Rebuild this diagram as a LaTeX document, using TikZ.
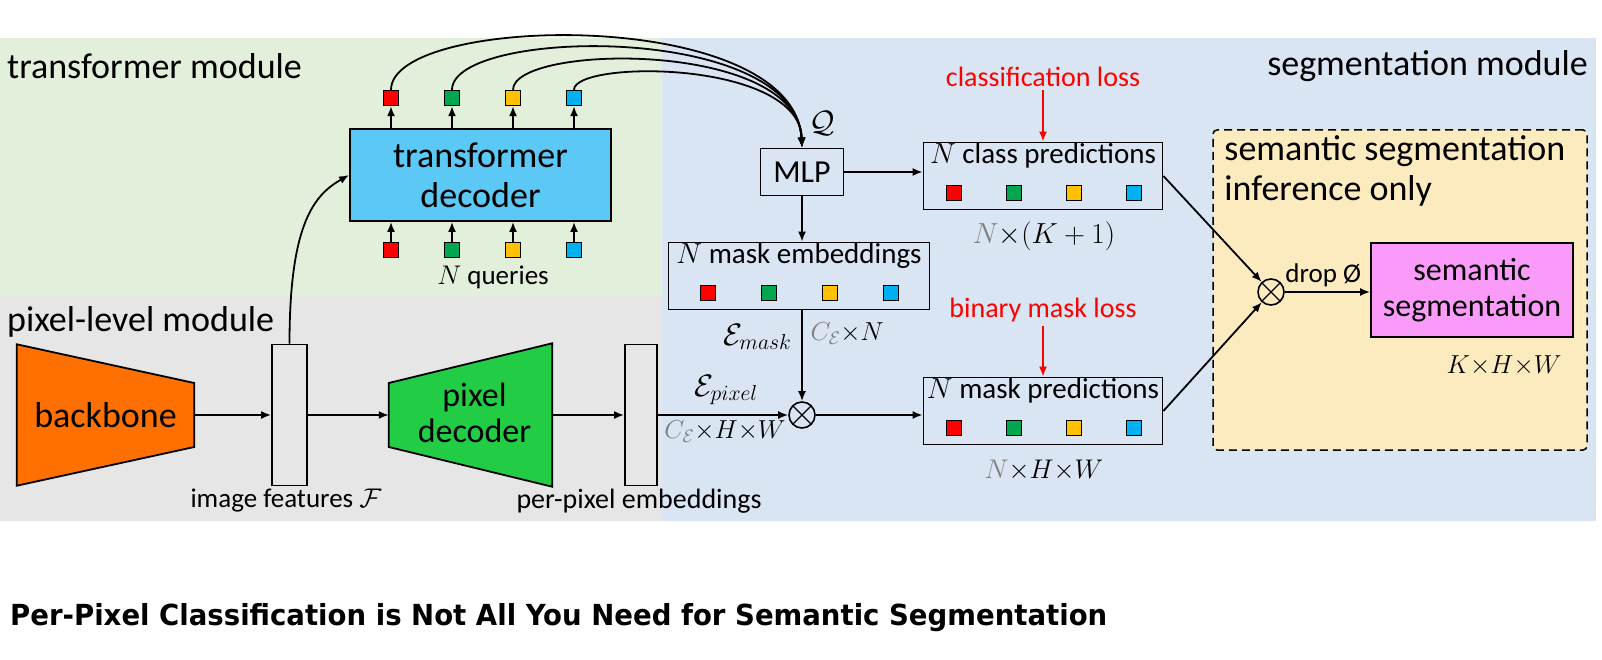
\RequirePackage{fix-cm}
\documentclass[tikz,border=0pt]{standalone}
\usepackage{fontspec}
\setmainfont{Carlito}
\newfontfamily\titlefont{DejaVu Sans}
\usepackage{tikz}
\usetikzlibrary{positioning,arrows.meta,calc}

\definecolor{tmbg}{RGB}{226,239,218}
\definecolor{pxbg}{RGB}{231,230,230}
\definecolor{sgbg}{RGB}{218,229,243}
\definecolor{infbg}{RGB}{253,235,192}
\definecolor{decblue}{RGB}{91,200,245}
\definecolor{bborange}{RGB}{255,112,0}
\definecolor{pdgreen}{RGB}{34,204,68}
\definecolor{segpink}{RGB}{250,155,250}
\definecolor{qred}{RGB}{255,0,0}
\definecolor{qgreen}{RGB}{0,166,80}
\definecolor{qyellow}{RGB}{255,192,0}
\definecolor{qblue}{RGB}{0,176,240}
\definecolor{dimgray}{RGB}{128,128,128}
\definecolor{lossred}{RGB}{255,0,0}

\begin{document}
\begin{tikzpicture}[
  x=1pt, y=-1pt,
  fbig/.style={font=\fontsize{36}{40}\selectfont},
  fmid/.style={font=\fontsize{31}{36}\selectfont},
  fsmall/.style={font=\fontsize{27}{31}\selectfont},
  fpanel/.style={font=\fontsize{29}{33}\selectfont},
  fmath/.style={font=\fontsize{26}{30}\selectfont},
  box/.style={draw, line width=1.8pt, inner sep=0pt, align=center},
  panel/.style={draw, line width=1.8pt, minimum width=239pt, minimum height=67pt, inner sep=0pt},
  qsq/.style={draw, line width=1.3pt, minimum size=15pt, inner sep=0pt},
  mult/.style={draw, circle, line width=1.6pt, minimum size=26pt, inner sep=0pt,
    path picture={\draw[line width=1.3pt] (path picture bounding box.north west) -- (path picture bounding box.south east)
      (path picture bounding box.north east) -- (path picture bounding box.south west);}},
  arr/.style={-{Latex[length=10pt,width=8pt]}, line width=1.8pt},
  lossarr/.style={arr, lossred},
  loss/.style={font=\fontsize{28}{32}\selectfont, text=lossred}
]
\useasboundingbox (0,0) rectangle (1602,660);

% ---- module backgrounds ----
\fill[white] (0,0) rectangle (1602,660);
\fill[tmbg] (0,38) rectangle (662,296);
\fill[pxbg] (0,296) rectangle (662,521);
\fill[sgbg] (662,38) rectangle (1596,521);
\node[fbig, anchor=west, inner sep=0pt] at (7,66) {transformer module};
\node[fbig, anchor=west, inner sep=0pt] at (7,322) {pixel-level module};
\node[fbig, anchor=east, inner sep=0pt] at (1588,66) {segmentation module};

% ---- transformer module ----
\node[box, fill=decblue, minimum width=261pt, minimum height=92pt, fbig] (dec) at (480.5,175) {transformer\\decoder};
\foreach \c [count=\i] in {qred,qgreen,qyellow,qblue} {
  \node[qsq, fill=\c] (qin\i) at (330+61*\i,250) {};
  \node[qsq, fill=\c] (qout\i) at (330+61*\i,98) {};
  \draw[arr] (qin\i) -- (qin\i |- dec.south);
  \draw[arr] (qout\i |- dec.north) -- (qout\i);
}
\node[fsmall] (nq) at (493,277) {$N$ queries};

% ---- pixel-level module ----
\node[minimum width=177pt, minimum height=141pt, inner sep=0pt] (bb) at (105.5,415) {};
\filldraw[fill=bborange, line width=1.8pt] (bb.north west) -- ($(bb.east)+(0,-32)$) -- ($(bb.east)+(0,32)$) -- (bb.south west) -- cycle;
\node[fbig] at (bb) {backbone};
\node[draw, line width=1.8pt, minimum width=35pt, minimum height=141pt] (feat) at (289.5,415) {};
\node[minimum width=163pt, minimum height=143pt, inner sep=0pt] (pd) at (470.5,415) {};
\filldraw[fill=pdgreen, line width=1.8pt] (pd.north east) -- (pd.south east) -- ($(pd.west)+(0,32)$) -- ($(pd.west)+(0,-32)$) -- cycle;
\node[fbig, align=center, font=\fontsize{34}{36}\selectfont] at ($(pd)+(4,-2)$) {pixel\\decoder};
\node[draw, line width=1.8pt, minimum width=32pt, minimum height=141pt] (ppe) at (641,415) {};
\node[fsmall] at (286,501) {image features $\mathcal{F}$};
\node[fsmall, font=\fontsize{28}{32}\selectfont] at (639,501) {per-pixel embeddings};

\draw[arr] (bb) -- (feat);
\draw[arr] (feat) -- (pd);
\draw[arr] (pd) -- (ppe);
\draw[arr] (feat.north) .. controls +(0,-120) and +(-35,20) .. (dec.west);

% ---- segmentation module ----
\node[box, minimum width=83pt, minimum height=47pt, font=\fontsize{32}{36}\selectfont] (mlp) at (802,172) {MLP};
\node[fmid] at (822,123) {$\mathcal{Q}$};
\draw[arr] (qout1.north) .. controls +(0,-76) and +(-8,-142) .. (mlp.north);
\draw[arr] (qout2.north) .. controls +(0,-62) and +(-6,-126) .. (mlp.north);
\draw[arr] (qout3.north) .. controls +(0,-46) and +(-4,-108) .. (mlp.north);
\draw[arr] (qout4.north) .. controls +(0,-30) and +(-2,-88) .. (mlp.north);

\node[panel] (cls) at (1043,176) {};
\node[fpanel, anchor=north, inner sep=2pt] at (cls.north) {$N$ class predictions};
\node[panel, minimum width=261pt] (emb) at (799,276) {};
\node[fpanel, anchor=north, inner sep=2pt] at (emb.north) {$N$ mask embeddings};
\node[panel] (mpred) at (1043,411) {};
\node[fpanel, anchor=north, inner sep=2pt] at (mpred.north) {$N$ mask predictions};
\foreach \c [count=\i] in {qred,qgreen,qyellow,qblue} {
  \node[qsq, fill=\c] (csq\i) at (894+60*\i,193) {};
  \node[qsq, fill=\c] (esq\i) at (647+61*\i,293) {};
  \node[qsq, fill=\c] (msq\i) at (894+60*\i,428) {};
}
\node[mult] (mul1) at (802,415) {};

\draw[arr] (mlp.east) -- (mlp.east -| cls.west);
\draw[arr] (mlp.south) -- (mlp.south |- emb.north);
\draw[arr] (mul1 |- emb.south) -- (mul1);
\draw[arr] (ppe) -- (mul1);
\draw[arr] (mul1) -- (mul1 -| mpred.west);

\node[fmid, anchor=east] at (795,337) {$\mathcal{E}_{mask}$};
\node[fmath, anchor=west] at (807,334) {$\textcolor{dimgray}{C_{\mathcal{E}}}{\times}N$};
\node[fmid] at (726,390) {$\mathcal{E}_{pixel}$};
\node[fmath] at (725,432) {$\textcolor{dimgray}{C_{\mathcal{E}}}{\times}H{\times}W$};

\node[loss] (clsloss) at (1043,77) {classification loss};
\draw[lossarr] (clsloss) -- (cls);
\node[loss] (mskloss) at (1043,310) {binary mask loss};
\draw[lossarr] (mskloss) -- (mpred);
\node[fmath, font=\fontsize{29}{33}\selectfont] at (1044,236) {$\textcolor{dimgray}{N}{\times}(K+1)$};
\node[fmath, font=\fontsize{27}{31}\selectfont] at (1044,470) {$\textcolor{dimgray}{N}{\times}H{\times}W$};

% ---- inference only ----
\node[draw, line width=1.5pt, dash pattern=on 8pt off 5pt, rounded corners=4pt, fill=infbg,
  minimum width=374pt, minimum height=320pt] (inf) at (1400,290) {};
\node[fbig, anchor=north west, align=left, inner sep=0pt] at ($(inf.north west)+(12,6)$) {semantic segmentation\\inference only};
\node[mult] (mul2) at (1271,292) {};
\node[box, fill=segpink, minimum width=202pt, minimum height=94pt, font=\fontsize{32}{36}\selectfont] (seg) at (1472,290) {semantic\\segmentation};
\draw[arr] (cls.east) -- (mul2);
\draw[arr] (mpred.east) -- (mul2);
\draw[arr] (mul2) -- (mul2 -| seg.west) node[pos=0.45, above=1pt, fsmall] {drop Ø};
\node[fmath] at (1504,366) {$K{\times}H{\times}W$};

% ---- title ----
\node[anchor=west, inner sep=0pt] (title) at (10,618)
  {\resizebox{1097pt}{\height}{\titlefont\bfseries\fontsize{29}{34}\selectfont Per-Pixel Classification is Not All You Need for Semantic Segmentation}};
\end{tikzpicture}
\end{document}
